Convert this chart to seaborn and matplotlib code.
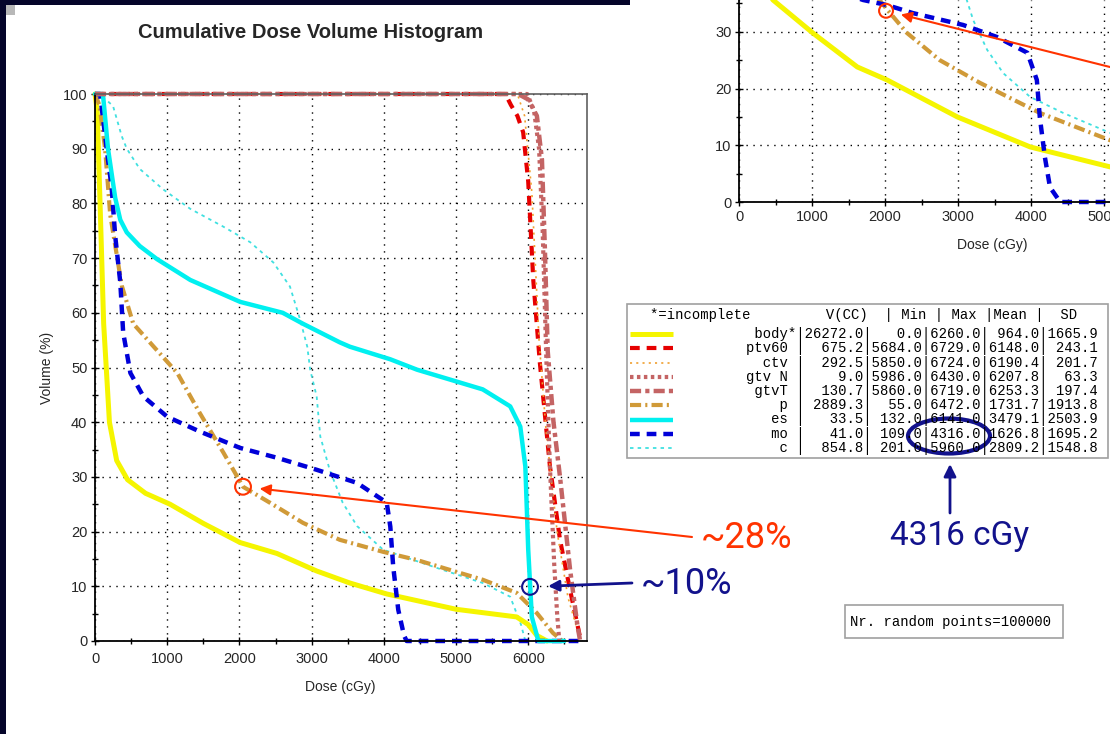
import matplotlib
matplotlib.use("Agg")
import matplotlib.pyplot as plt
import seaborn as sns
from matplotlib.patches import Rectangle, Ellipse
from matplotlib.ticker import MultipleLocator
from matplotlib.transforms import Bbox, TransformedBbox

# ---- main DVH curves (dose cGy, volume %) ----
body_dose = [0, 30, 70, 120, 200, 300, 450, 700, 1040, 1500, 2010, 2520, 3070, 3530, 4040, 5000, 5840, 6000, 6120, 6260]
body_vol = [100, 97, 80, 58, 40, 33, 29.5, 27, 25, 21.5, 18, 16, 12.8, 10.6, 8.6, 5.8, 4.4, 3, 1, 0]

ptv_dose = [0, 5684, 5760, 5850, 5930, 6000, 6070, 6160, 6300, 6440, 6580, 6729]
ptv_vol = [100, 100, 98, 96, 93, 84, 66, 51, 32, 18.5, 9.3, 0]

ctv_dose = [0, 5850, 5950, 6050, 6150, 6250, 6400, 6550, 6724]
ctv_vol = [100, 100, 96, 82, 55, 38, 20, 8, 0]

gtvn_dose = [0, 5986, 6080, 6150, 6200, 6250, 6300, 6360, 6400, 6430]
gtvn_vol = [100, 100, 97, 90, 75, 52, 32, 14, 5, 0]

gtvt_dose = [0, 5860, 6000, 6120, 6190, 6230, 6270, 6350, 6440, 6580, 6680, 6719]
gtvt_vol = [100, 100, 99, 96, 88, 72, 53, 40, 30, 13, 3, 0]

p_dose = [0, 60, 140, 210, 370, 530, 800, 1140, 1450, 1780, 2050, 2420, 2880, 3390, 3990, 4460, 5370, 5840, 6120, 6340, 6472]
p_vol = [100, 98, 90, 78, 65, 58, 54, 49, 41.7, 34.4, 28.2, 25.3, 21.6, 18.5, 16.3, 14.8, 11.2, 8.8, 5.1, 1.5, 0]

es_dose = [0, 110, 180, 280, 350, 440, 620, 860, 1320, 2010, 2600, 2880, 3390, 3530, 4090, 4460, 5370, 5750, 5890, 5960, 6000, 6050, 6141, 6500]
es_vol = [100, 100, 90, 81, 77, 74.7, 72.2, 69.8, 66, 62, 60, 58, 54.6, 53.8, 51.5, 49.6, 46, 42.9, 39.2, 31.9, 16.7, 4.4, 0, 0]

mo_dose = [0, 70, 180, 230, 280, 350, 390, 490, 670, 1000, 1450, 2010, 2520, 3070, 3630, 4040, 4090, 4130, 4200, 4280, 4316, 6700]
mo_vol = [100, 100, 88, 83, 74, 65.6, 56.4, 49, 44.7, 41, 38.3, 35.3, 33.5, 31.3, 28.9, 25.3, 20.9, 13.6, 5.7, 1, 0, 0]

c_dose = [0, 150, 250, 370, 440, 620, 940, 1320, 1770, 2150, 2470, 2700, 2840, 2940, 2980, 3070, 3120, 3250, 3430, 3630, 3990, 4680, 5370, 5750, 5900, 5960]
c_vol = [100, 99, 97.8, 92.3, 90, 86.3, 82.6, 79, 75.8, 72.9, 69.2, 64.8, 58.8, 53.8, 49.6, 44.7, 37.4, 31.3, 25.3, 21, 16.7, 13.6, 10.6, 8.1, 3, 0]

# ---- zoomed copy (top right) ----
in_body_dose = [420, 466, 1010, 1620, 2030, 2990, 3990, 5080, 5500]
in_body_vol = [36.5, 35.6, 29.8, 23.8, 21.5, 15, 9.7, 6.2, 5.6]
in_p_dose = [1900, 2030, 2300, 2750, 3300, 4120, 5080, 5300]
in_p_vol = [36, 33.9, 29.8, 25, 21, 15.7, 10.9, 10]
in_mo_dose = [1500, 1700, 2030, 2380, 3070, 3530, 3950, 4080, 4120, 4190, 4260, 4400, 5300]
in_mo_vol = [36.5, 35.6, 34.7, 33.3, 31.2, 29.1, 26.3, 21.5, 15, 7.9, 2.6, 0, 0]
in_c_dose = [3080, 3120, 3210, 3400, 3620, 3990, 4440, 5080, 5300]
in_c_vol = [37, 35.6, 32, 26.8, 22.7, 18.5, 15.7, 12.2, 11.5]

# ---- statistics table ----
names = ["body*", "ptv60", "ctv", "gtv N", "gtvT", "p", "es", "mo", "c"]
vol_cc = [26272.0, 675.2, 292.5, 9.0, 130.7, 2889.3, 33.5, 41.0, 854.8]
dmin = [0.0, 5684.0, 5850.0, 5986.0, 5860.0, 55.0, 132.0, 109.0, 201.0]
dmax = [6260.0, 6729.0, 6724.0, 6430.0, 6719.0, 6472.0, 6141.0, 4316.0, 5960.0]
dmean = [964.0, 6148.0, 6190.4, 6207.8, 6253.3, 1731.7, 3479.1, 1626.8, 2809.2]
dsd = [1665.9, 243.1, 201.7, 63.3, 197.4, 1913.8, 2503.9, 1695.2, 1548.8]

x_ticks = [0, 1000, 2000, 3000, 4000, 5000, 6000]
y_ticks = [0, 10, 20, 30, 40, 50, 60, 70, 80, 90, 100]
in_y_ticks = [0, 10, 20, 30]

styles = {
    "body*": ("#F5F500", 3.6, "-"),
    "ptv60": ("#E60000", 3.0, (0, (7, 5))),
    "ctv": ("#F0A030", 1.2, (0, (1.5, 3))),
    "gtv N": ("#C46464", 3.0, (0, (2.5, 2.5))),
    "gtvT": ("#C46464", 3.2, (0, (8, 3, 3, 3))),
    "p": ("#D09A38", 3.0, (0, (8, 3, 1.5, 3))),
    "es": ("#00F0F0", 3.2, "-"),
    "mo": ("#0000D8", 3.2, (0, (7, 5))),
    "c": ("#40E0E0", 1.3, (0, (2.5, 3))),
}

sns.set_style("white")
plt.rcParams["font.family"] = ["Liberation Sans", "DejaVu Sans"]
plt.rcParams["lines.scale_dashes"] = False

W, H = 1110, 734
fig = plt.figure(figsize=(11.1, 7.34), dpi=100, facecolor="white")


def rect(x0, y0, x1, y1):
    return [x0 / W, 1 - y1 / H, (x1 - x0) / W, (y1 - y0) / H]


ax = fig.add_axes(rect(95, 94, 587, 641))
ax_in = fig.add_axes(rect(739, 0, 1110, 202))

main_curves = [
    ("c", c_dose, c_vol), ("body*", body_dose, body_vol), ("p", p_dose, p_vol),
    ("mo", mo_dose, mo_vol), ("es", es_dose, es_vol), ("ptv60", ptv_dose, ptv_vol),
    ("ctv", ctv_dose, ctv_vol), ("gtv N", gtvn_dose, gtvn_vol), ("gtvT", gtvt_dose, gtvt_vol),
]
for name, d, v in main_curves:
    col, lw, ls = styles[name]
    sns.lineplot(x=d, y=v, ax=ax, color=col, lw=lw, linestyle=ls, sort=False,
                 estimator=None, clip_on=False)

inset_curves = [
    ("c", in_c_dose, in_c_vol), ("body*", in_body_dose, in_body_vol),
    ("p", in_p_dose, in_p_vol), ("mo", in_mo_dose, in_mo_vol),
]
clip = TransformedBbox(Bbox([[0, -0.05], [1, 1]]), ax_in.transAxes)
for name, d, v in inset_curves:
    col, lw, ls = styles[name]
    sns.lineplot(x=d, y=v, ax=ax_in, color=col, lw=lw, linestyle=ls, sort=False, estimator=None)
    ax_in.lines[-1].set_clip_box(clip)

for a in (ax, ax_in):
    a.set_xticks(x_ticks)
    a.xaxis.set_minor_locator(MultipleLocator(500))
    a.yaxis.set_minor_locator(MultipleLocator(5))
    a.grid(True, which="major", color="black", linestyle=(0, (1, 4)), linewidth=1)
    a.set_axisbelow(True)
    a.tick_params(which="major", direction="inout", length=6, width=1, labelsize=10.5,
                  top=False, right=False, bottom=True, left=True, color="black")
    a.tick_params(which="minor", direction="inout", length=5, width=1,
                  top=False, right=False, bottom=True, left=True, color="black")
    a.tick_params(axis="y", pad=2.5)
    for s in ("left", "bottom"):
        a.spines[s].set_color("black")
        a.spines[s].set_linewidth(1.3)

ax.set_yticks(y_ticks)
ax.set_xlim(0, 6814)
ax.set_ylim(0, 100)
ax.tick_params(axis="x", pad=5)
for s in ("top", "right"):
    ax.spines[s].set_color("#606060")
    ax.spines[s].set_linewidth(1.2)
ax.set_xlabel("Dose (cGy)", fontsize=10)
ax.set_ylabel("Volume (%)", fontsize=10)
ax.xaxis.set_label_coords(0.498, -0.072)
ax.yaxis.set_label_coords(-0.083, 0.5)

ax_in.set_yticks(in_y_ticks)
ax_in.set_xlim(0, 5082)
ax_in.set_ylim(0, 35.6)
ax_in.tick_params(axis="x", pad=3)
ax_in.spines["top"].set_visible(False)
ax_in.spines["right"].set_visible(False)
ax_in.set_xlabel("Dose (cGy)", fontsize=10)
ax_in.set_ylabel("")
ax_in.xaxis.set_label_coords(0.682, -0.18)

red = "#FF3300"
navy = "#12128C"

# annotations on the charts
ax.scatter([2050], [28.2], s=130, facecolors="none", edgecolors=red, linewidths=1.5, clip_on=False, zorder=10)
ax.annotate("", xy=(2050, 28.2), xytext=(692, H - 537), textcoords="figure pixels",
            arrowprops=dict(arrowstyle="-|>", color=red, lw=1.5, shrinkA=0, shrinkB=12, mutation_scale=16),
            annotation_clip=False)
ax.scatter([6025], [9.9], s=130, facecolors="none", edgecolors=navy, linewidths=1.5, clip_on=False, zorder=10)
ax.annotate("", xy=(6025, 9.9), xytext=(632, H - 583), textcoords="figure pixels",
            arrowprops=dict(arrowstyle="-|>", color=navy, lw=2, shrinkA=0, shrinkB=13, mutation_scale=16),
            annotation_clip=False)
ax_in.scatter([2014], [33.7], s=100, facecolors="none", edgecolors=red, linewidths=1.5, clip_on=False, zorder=10)
ax_in.annotate("", xy=(2014, 33.7), xytext=(1110, H - 67), textcoords="figure pixels",
               arrowprops=dict(arrowstyle="-|>", color=red, lw=1.5, shrinkA=0, shrinkB=11, mutation_scale=16),
               annotation_clip=False)

# overlay in image pixel coordinates
ov = fig.add_axes([0, 0, 1, 1], zorder=10)
ov.set_xlim(0, W)
ov.set_ylim(H, 0)
ov.axis("off")
ov.patch.set_visible(False)

ov.add_patch(Rectangle((0, 0), 6, H, color="#05052A", lw=0))
ov.add_patch(Rectangle((0, 0), 630, 5, color="#05052A", lw=0))
ov.add_patch(Rectangle((6, 5), 9, 10, color="#B8B8B8", lw=0))

ov.text(311, 32, "Cumulative Dose Volume Histogram", ha="center", va="center",
        fontsize=14.5, fontweight="bold", family="Liberation Sans")

# statistics table
ov.add_patch(Rectangle((627, 304), 481, 154, facecolor="white", edgecolor="#A0A0A0", lw=1.2))
mono = dict(family="Liberation Mono", fontsize=10, va="center", ha="left", color="black")
ov.text(650, 315, "*=incomplete         V(CC)  | Min | Max |Mean |  SD", **mono)
row_y0, row_dy = 334, 14.25
for i, name in enumerate(names):
    y = row_y0 + i * row_dy
    flag = "*" if name.endswith("*") else " "
    label = name.rstrip("*").rjust(5) + flag
    line = "%s|%7.1f|%6.1f|%6.1f|%6.1f|%6.1f" % (label, vol_cc[i], dmin[i], dmax[i], dmean[i], dsd[i])
    ov.text(746, y, line, **mono)
    col, lw, ls = styles[name]
    ov.plot([630, 673], [y, y], color=col, lw=lw, linestyle=ls, solid_capstyle="butt")

ov.add_patch(Ellipse((949, 436), 82, 35, facecolor="none", edgecolor=navy, lw=3))
ov.annotate("", xy=(950, 464), xytext=(950, 513),
            arrowprops=dict(arrowstyle="-|>", color=navy, lw=2, shrinkA=0, shrinkB=0, mutation_scale=18))

ov.add_patch(Rectangle((845, 605), 218, 33, facecolor="white", edgecolor="#A0A0A0", lw=1.2))
ov.text(850, 622, "Nr. random points=100000", **mono)

big = dict(family="Roboto", va="center", ha="left")
ov.text(701, 538, "~28%", color=red, fontsize=26, **big)
ov.text(641, 584, "~10%", color=navy, fontsize=26, **big)
ov.text(890, 536, "4316 cGy", color=navy, fontsize=24, **big)

fig.savefig("out.png", dpi=100, facecolor="white")
